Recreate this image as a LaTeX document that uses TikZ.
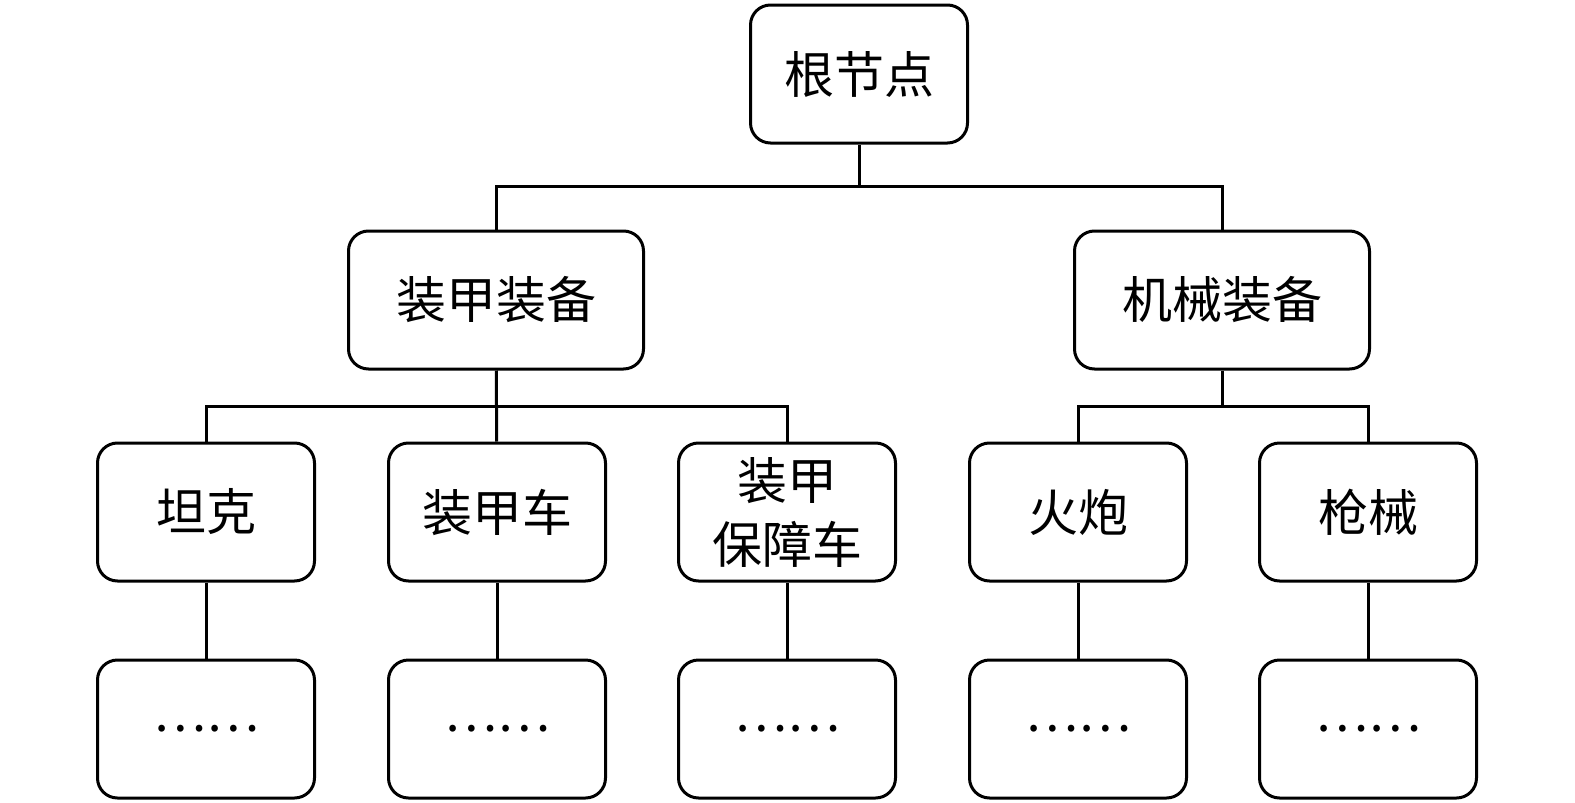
\documentclass[tikz,border=0pt]{standalone}
\usepackage{fontspec}
\usepackage{tikz}
\newfontfamily\cjk{Noto Sans CJK SC}
\tikzset{box/.style = {draw=black, line width=3pt, rounded corners=20pt,
        minimum width=217pt, minimum height=138pt, inner sep=0pt,
        align=center, font=\cjk\fontsize{50}{64}\selectfont}}
\tikzset{wide/.style = {box, minimum width=295pt}}

\begin{document}
\begin{tikzpicture}[x=1pt, y=-1pt, line width=3pt]
        \useasboundingbox (0,0) rectangle (1575,803);

        \node [box]  (root)  at (859, 74)  {根节点};

        \node [wide] (armor) at (496, 300) {装甲装备};
        \node [wide] (mech)  at (1222, 300) {机械装备};

        \node [box] (tank)  at ( 206, 512) {坦克};
        \node [box] (apc)   at ( 497, 512) {装甲车};
        \node [box] (arv)   at ( 787, 512) {装甲\\保障车};
        \node [box] (gun)   at (1078, 512) {火炮};
        \node [box] (rifle) at (1368, 512) {枪械};

        \node [box] (tankD)  at ( 206, 729) {……};
        \node [box] (apcD)   at ( 497, 729) {……};
        \node [box] (arvD)   at ( 787, 729) {……};
        \node [box] (gunD)   at (1078, 729) {……};
        \node [box] (rifleD) at (1368, 729) {……};

        \coordinate (busR) at (859, 186);
        \coordinate (busA) at (497, 406);
        \coordinate (busM) at (1222, 406);

        \draw (root) -- (busR);
        \draw (armor.north) |- (busR) -| (mech.north);

        \draw (armor) -- (apc);
        \draw (tank.north) |- (busA) -| (arv.north);
        \draw (mech.south) -- (busM);
        \draw (gun.north) |- (busM) -| (rifle.north);

        \draw (tank) -- (tankD);
        \draw (apc) -- (apcD);
        \draw (arv) -- (arvD);
        \draw (gun) -- (gunD);
        \draw (rifle) -- (rifleD);
    \end{tikzpicture}
\end{document}
